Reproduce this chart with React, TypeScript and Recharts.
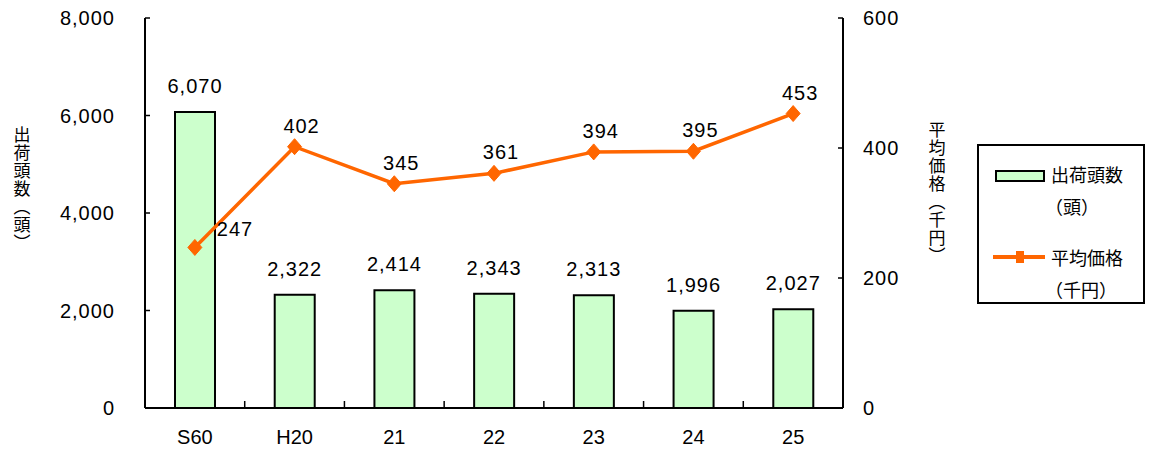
import React from "react";
import { ComposedChart, Bar, Line, XAxis, YAxis, LabelList } from "recharts";

const categories = ["S60", "H20", "21", "22", "23", "24", "25"];
const headCounts = [6070, 2322, 2414, 2343, 2313, 1996, 2027];
const avgPrices = [247, 402, 345, 361, 394, 395, 453];
const leftTicks = [0, 2000, 4000, 6000, 8000];
const rightTicks = [0, 200, 400, 600];

const data = categories.map((c, i) => ({ cat: c, heads: headCounts[i], price: avgPrices[i] }));

const FONT = "'Liberation Sans', 'Noto Sans CJK JP', sans-serif";
const JFONT = "'Noto Sans CJK JP', sans-serif";
const ORANGE = "#FF6600";
const GREEN = "#CCFFCC";

const LeftTick = (p: any) => {
  const { x, y, payload } = p;
  return (
    <g>
      <line x1={x + 30} x2={x + 35} y1={y} y2={y} stroke="#000" strokeWidth={1.5} />
      <text x={x} y={y} dy={7} textAnchor="end" fontSize={20} fontFamily={FONT} fill="#000" letterSpacing={1}>
        {Number(payload.value).toLocaleString("en-US")}
      </text>
    </g>
  );
};

const RightTick = (p: any) => {
  const { x, y, payload } = p;
  return (
    <g>
      <line x1={x - 20} x2={x - 25} y1={y} y2={y} stroke="#000" strokeWidth={1.5} />
      <text x={x} y={y} dy={7} textAnchor="start" fontSize={20} fontFamily={FONT} fill="#000" letterSpacing={1}>
        {String(payload.value)}
      </text>
    </g>
  );
};

const BottomTick = (p: any) => {
  const { x, y, payload, index, width, visibleTicksCount } = p;
  const band = width / visibleTicksCount;
  const last = index === visibleTicksCount - 1;
  return (
    <g>
      {!last && (
        <line x1={x + band / 2} x2={x + band / 2} y1={y - 1} y2={y - 7} stroke="#000" strokeWidth={1.5} />
      )}
      <text x={x} y={y} dy={36} textAnchor="middle" fontSize={20} fontFamily={FONT} fill="#000">
        {payload.value}
      </text>
    </g>
  );
};

const Diamond = (p: any) => {
  const { cx, cy } = p;
  if (cx == null || cy == null) return null;
  return (
    <polygon
      points={`${cx},${cy - 8} ${cx + 7},${cy} ${cx},${cy + 8} ${cx - 7},${cy}`}
      fill={ORANGE}
      stroke={ORANGE}
    />
  );
};

const PriceLabel = (p: any) => {
  const { x, y, value, index } = p;
  const first = index === 0;
  return (
    <text
      x={first ? x + 22 : x + 7}
      y={first ? y - 11 : y - 14}
      textAnchor={first ? "start" : "middle"}
      fontSize={20}
      fontFamily={FONT}
      fill="#000"
      letterSpacing={1}
    >
      {value}
    </text>
  );
};

const VTitle = (p: any) => {
  const { viewBox, text, dx, shift } = p;
  const cx = viewBox.x + dx;
  const cy = viewBox.y + viewBox.height / 2 + shift;
  return (
    <text
      x={cx}
      y={cy}
      style={{ writingMode: "vertical-rl" as any }}
      textAnchor="middle"
      fontSize={17}
      letterSpacing={1}
      fontFamily={JFONT}
      fill="#000"
    >
      {text}
    </text>
  );
};

const LegendBox = () => (
  <div
    style={{
      position: "absolute",
      left: 977,
      top: 144,
      width: 168,
      height: 160,
      border: "2px solid #000",
      background: "#fff",
      boxSizing: "border-box",
      fontFamily: JFONT,
      fontSize: 18,
      color: "#000",
    }}
  >
    <div style={{ position: "absolute", left: 16, top: 24, width: 46, height: 8, background: GREEN, border: "2px solid #000" }} />
    <div style={{ position: "absolute", left: 72, top: 12, lineHeight: "32px", whiteSpace: "nowrap" }}>
      出荷頭数
      <br />
      <span style={{ marginLeft: -6 }}>（頭）</span>
    </div>
    <div style={{ position: "absolute", left: 14, top: 109, width: 52, height: 4, background: ORANGE }} />
    <div style={{ position: "absolute", left: 37, top: 105, width: 8, height: 12, background: ORANGE }} />
    <div style={{ position: "absolute", left: 72, top: 95, lineHeight: "32px", whiteSpace: "nowrap" }}>
      平均価格
      <br />
      <span style={{ marginLeft: -6 }}>（千円）</span>
    </div>
  </div>
);

export default function App() {
  return (
    <div style={{ position: "absolute", left: 0, top: 0, width: 1149, height: 449, background: "#fff" }}>
      <ComposedChart width={1149} height={449} data={data} margin={{ top: 18, right: 246, bottom: 0, left: 0 }}>
        <XAxis
          dataKey="cat"
          height={41}
          tick={<BottomTick />}
          tickLine={false}
          tickSize={0}
          tickMargin={0}
          axisLine={{ stroke: "#000", strokeWidth: 2 }}
          interval={0}
        />
        <YAxis
          yAxisId="left"
          orientation="left"
          width={145}
          domain={[0, 8000]}
          ticks={leftTicks}
          tick={<LeftTick />}
          tickLine={false}
          tickSize={0}
          tickMargin={30}
          axisLine={{ stroke: "#000", strokeWidth: 2 }}
          interval={0}
          label={{ content: (props: any) => <VTitle {...props} text="出荷頭数（頭）" dx={22} shift={-24} /> }}
        />
        <YAxis
          yAxisId="right"
          orientation="right"
          width={60}
          domain={[0, 600]}
          ticks={rightTicks}
          tick={<RightTick />}
          tickLine={false}
          tickSize={0}
          tickMargin={20}
          axisLine={{ stroke: "#000", strokeWidth: 2 }}
          interval={0}
          label={{ content: (props: any) => <VTitle {...props} text="平均価格（千円）" dx={94} shift={-20} /> }}
        />
        <Bar
          yAxisId="left"
          dataKey="heads"
          name="出荷頭数（頭）"
          fill={GREEN}
          stroke="#000"
          strokeWidth={2}
          barSize={40}
          isAnimationActive={false}
        >
          <LabelList
            dataKey="heads"
            position="top"
            offset={19}
            fontSize={20}
            fontFamily={FONT}
            fill="#000"
            letterSpacing={1}
            formatter={(v: any) => Number(v).toLocaleString("en-US")}
          />
        </Bar>
        <Line
          yAxisId="right"
          dataKey="price"
          name="平均価格（千円）"
          stroke={ORANGE}
          strokeWidth={3.5}
          dot={<Diamond />}
          activeDot={false}
          isAnimationActive={false}
        >
          <LabelList dataKey="price" content={<PriceLabel />} />
        </Line>
      </ComposedChart>
      <LegendBox />
    </div>
  );
}
